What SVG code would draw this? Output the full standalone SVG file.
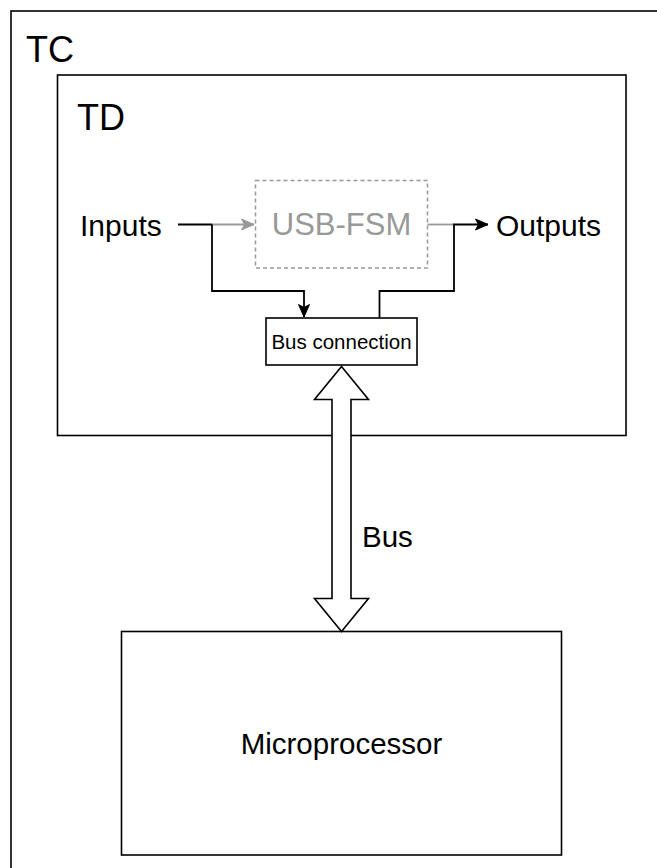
<svg xmlns="http://www.w3.org/2000/svg" width="657" height="868" viewBox="0 0 657 868">
  <defs>
    <style>
      .box { fill: #ffffff; stroke: #000000; stroke-width: 1.6; }
      .label { font-family: "Liberation Sans", Arial, Helvetica, sans-serif; fill: #000000; }
      .wire { fill: none; stroke: #000000; stroke-width: 1.8; }
      .wire-grey { fill: none; stroke: #999999; stroke-width: 1.8; }
      .ghost { fill: #ffffff; stroke: #999999; stroke-width: 1.5; stroke-dasharray: 4 3; }
    </style>
    <marker id="arrow-black" viewBox="0 0 14 14" refX="13" refY="7" markerWidth="14" markerHeight="14" markerUnits="userSpaceOnUse" orient="auto">
      <path d="M0.5,1.5 L13,7 L0.5,12.5 L3.5,7 Z" fill="#000000" stroke="#000000" stroke-width="1"/>
    </marker>
    <marker id="arrow-grey" viewBox="0 0 14 14" refX="13" refY="7" markerWidth="14" markerHeight="14" markerUnits="userSpaceOnUse" orient="auto">
      <path d="M0.5,1.5 L13,7 L0.5,12.5 L3.5,7 Z" fill="#999999" stroke="#999999" stroke-width="1"/>
    </marker>
  </defs>

  <rect width="657" height="868" fill="#ffffff"/>

  <!-- outer container -->
  <g id="tc">
    <rect class="box" x="11" y="11" width="660" height="870"/>
    <text class="label" x="26" y="61.5" font-size="36">TC</text>
  </g>

  <!-- inner container -->
  <g id="td">
    <rect class="box" x="57.5" y="75" width="568.5" height="360.5"/>
    <text class="label" x="77" y="130" font-size="36">TD</text>
  </g>

  <g id="inputs">
    <text class="label" x="80" y="235.5" font-size="30">Inputs</text>
  </g>

  <g id="outputs">
    <text class="label" x="496" y="235.5" font-size="30">Outputs</text>
  </g>

  <g id="usb-fsm">
    <rect class="ghost" x="255.5" y="180.5" width="172" height="87.5"/>
    <text class="label" x="341.5" y="235" font-size="31" text-anchor="middle" style="fill:#999999">USB-FSM</text>
  </g>

  <g id="bus-connection">
    <rect class="box" x="266" y="318" width="151" height="47"/>
    <text class="label" x="341.5" y="349" font-size="20.5" text-anchor="middle">Bus connection</text>
  </g>

  <g id="microprocessor">
    <rect class="box" x="121.5" y="631.5" width="440" height="223.5"/>
    <text class="label" x="341.5" y="753.5" font-size="29.5" text-anchor="middle">Microprocessor</text>
  </g>

  <g id="connectors">
    <!-- Inputs to the FSM and to the bus connection -->
    <path class="wire" d="M178,224.5 H212"/>
    <path class="wire-grey" d="M212,224.5 H254" marker-end="url(#arrow-grey)"/>
    <path class="wire" d="M212,224.5 V291 H304 V317" marker-end="url(#arrow-black)"/>
    <!-- FSM and bus connection to Outputs -->
    <path class="wire-grey" d="M427.5,224.5 H454"/>
    <path class="wire" d="M379.5,318 V291 H454 V224.5 H488" marker-end="url(#arrow-black)"/>
    <!-- bus: double block arrow -->
    <polygon class="box" points="341.5,366.5 368.5,399.5 351,399.5 351,598.5 368.5,598.5 341.5,631.5 314.5,598.5 332,598.5 332,399.5 314.5,399.5"/>
    <text class="label" x="362" y="547" font-size="29.5">Bus</text>
  </g>
</svg>
